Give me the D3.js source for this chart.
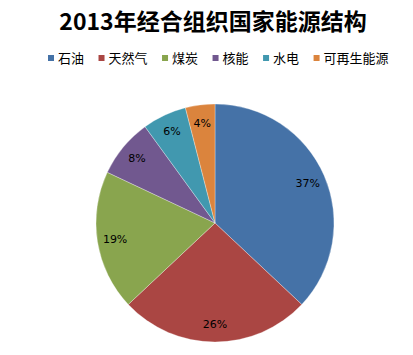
<!DOCTYPE html>
<html>
<head>
<meta charset="utf-8">
<script src="https://cdn.jsdelivr.net/npm/d3@7"></script>
<style>
  body { margin: 0; background: #fff; }
  svg { display: block; }
</style>
</head>
<body>
<div id="chart"></div>
<script>
// data
const categories = ["石油", "天然气", "煤炭", "核能", "水电", "可再生能源"];
const shares = [37, 26, 19, 8, 6, 4];
const colors = ["#4572A7", "#AA4643", "#89A54E", "#71588F", "#4198AF", "#DB843D"];
const titleText = "2013年经合组织国家能源结构";

const width = 413, height = 355;
const cx = 215, cy = 223, radius = 119;

const svg = d3.select("#chart").append("svg")
  .attr("width", width)
  .attr("height", height);

// title
svg.append("text")
  .attr("x", 213)
  .attr("y", 30)
  .attr("text-anchor", "middle")
  .attr("font-family", "'Noto Sans CJK SC', sans-serif")
  .attr("font-weight", "bold")
  .attr("font-size", 23)
  .attr("fill", "#000")
  .text(titleText);

// legend
const legend = svg.append("g").attr("transform", "translate(0,58)");
let lx = 48;
categories.forEach((c, i) => {
  const g = legend.append("g").attr("transform", `translate(${lx},0)`);
  g.append("rect")
    .attr("x", 0).attr("y", -3)
    .attr("width", 6).attr("height", 6)
    .attr("fill", colors[i]);
  const t = g.append("text")
    .attr("x", 10)
    .attr("y", 0)
    .attr("dy", "0.36em")
    .attr("font-family", "'Noto Sans CJK SC', sans-serif")
    .attr("font-size", 13)
    .attr("fill", "#000")
    .text(c);
  lx += 10 + t.node().getComputedTextLength() + 14.5;
});

// pie
const pie = d3.pie().sort(null)(shares);
const arc = d3.arc().innerRadius(0).outerRadius(radius);
const labelArc = d3.arc().innerRadius(radius * 0.85).outerRadius(radius * 0.85);

const pieG = svg.append("g").attr("transform", `translate(${cx},${cy})`);

pieG.selectAll("path")
  .data(pie)
  .enter().append("path")
    .attr("d", arc)
    .attr("fill", (d, i) => colors[i])
    .attr("stroke", "rgba(255,255,255,0.5)")
    .attr("stroke-width", 0.6);

pieG.selectAll("text")
  .data(pie)
  .enter().append("text")
    .attr("transform", d => `translate(${labelArc.centroid(d)})`)
    .attr("text-anchor", "middle")
    .attr("dy", "0.36em")
    .attr("font-family", "'DejaVu Sans', sans-serif")
    .attr("font-size", 11)
    .attr("fill", "#000")
    .text(d => d.data + "%");
</script>
</body>
</html>
